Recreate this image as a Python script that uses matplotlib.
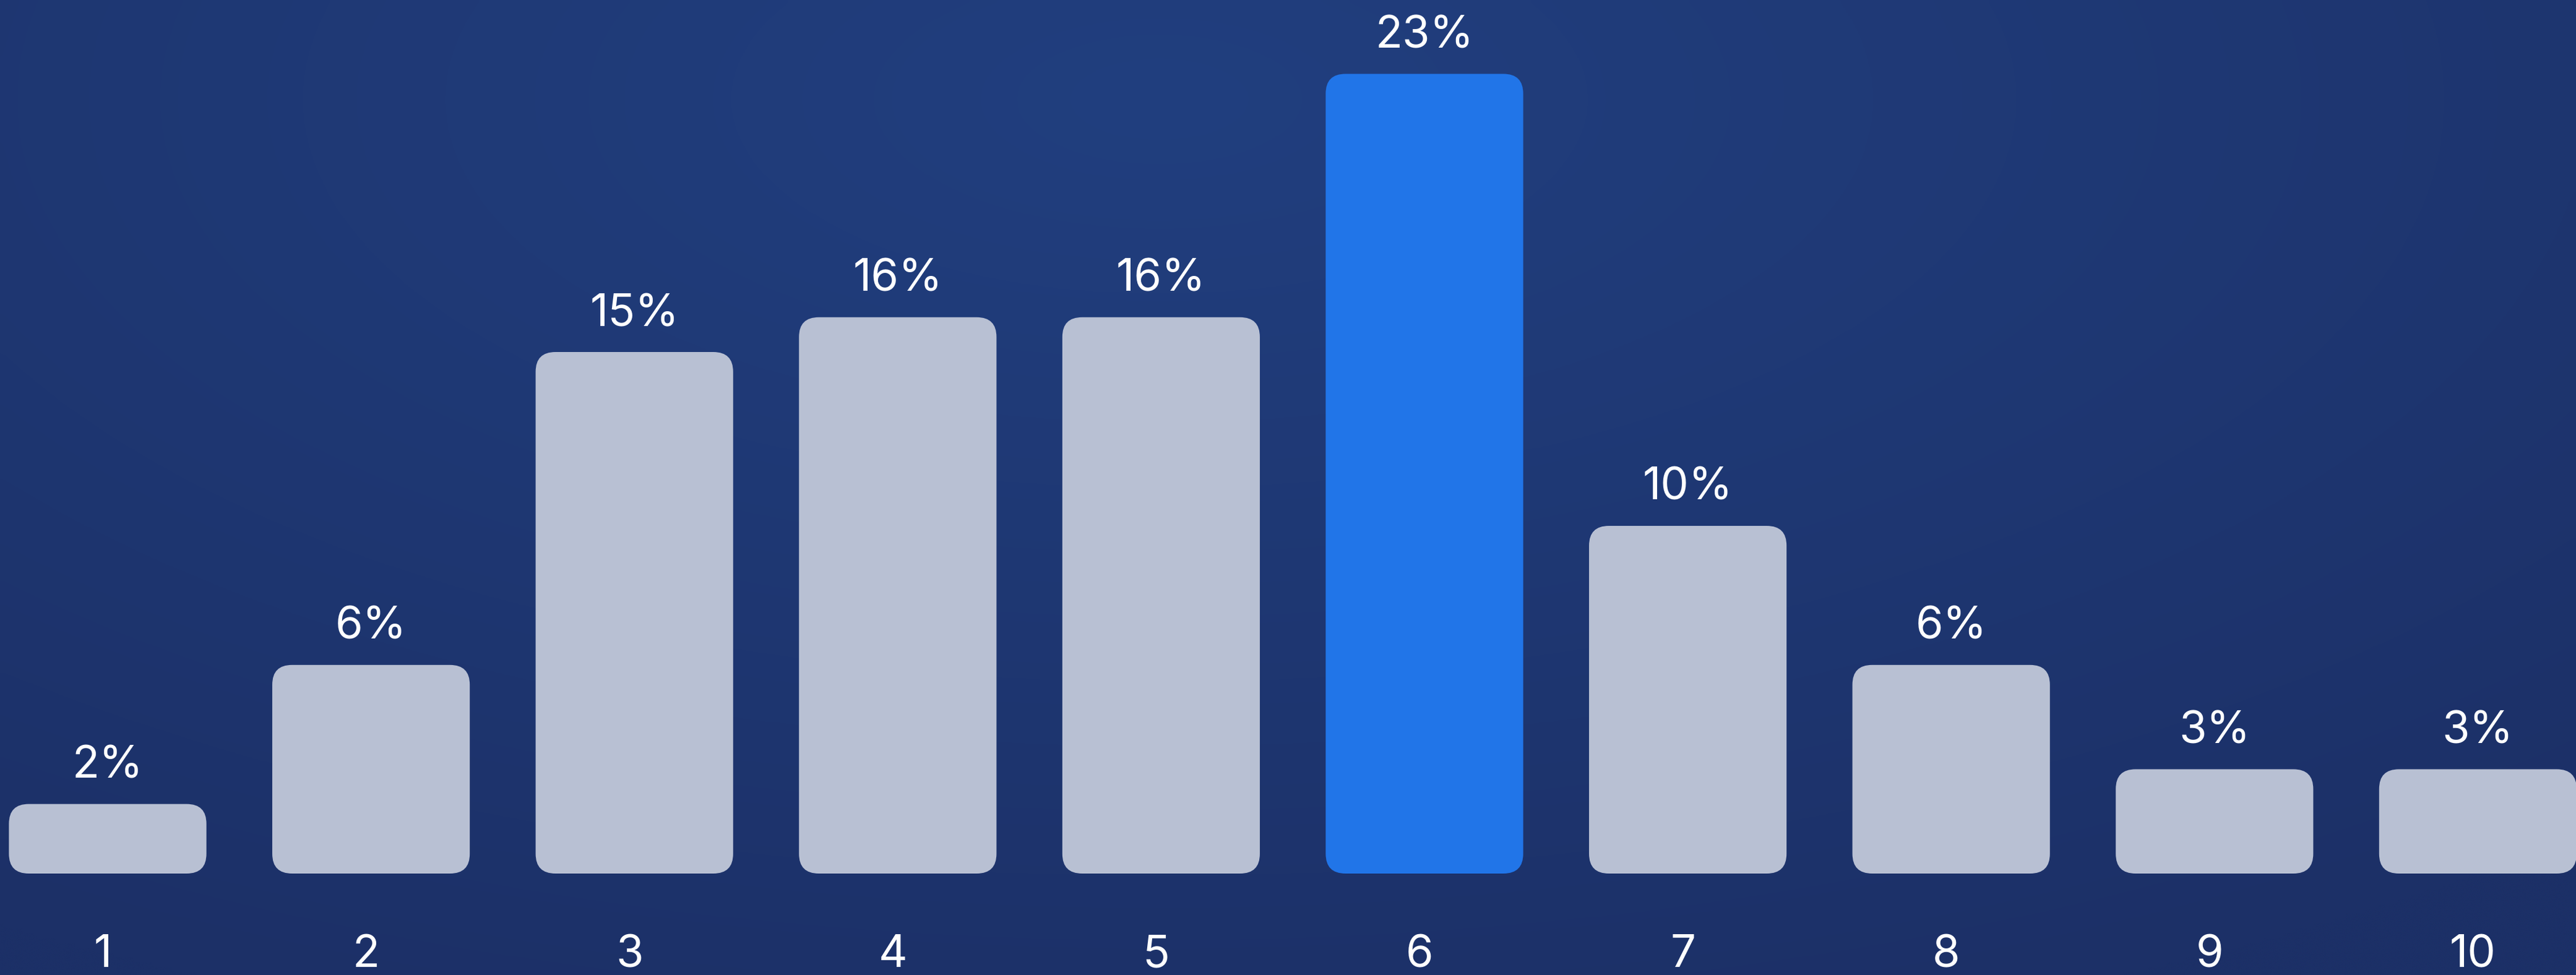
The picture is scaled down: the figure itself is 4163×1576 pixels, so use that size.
import matplotlib.pyplot as plt
from matplotlib.patches import FancyBboxPatch
import numpy as np

# datos del grafico
categorias = ['1', '2', '3', '4', '5', '6', '7', '8', '9', '10']
porcentajes = [2, 6, 15, 16, 16, 23, 10, 6, 3, 3]
destacado = '6'

color_fondo_centro = np.array([33, 63, 127]) / 255
color_fondo_borde = np.array([28, 48, 103]) / 255
color_barra = '#b8c0d3'
color_destacado = '#2175e8'

W, H, DPI = 4163, 1576, 100
fig = plt.figure(figsize=(W / DPI, H / DPI), dpi=DPI)

# fondo con degradado suave
bg = fig.add_axes([0, 0, 1, 1])
yy, xx = np.mgrid[0:1:200j, 0:1:400j]
d = np.sqrt(((xx - 0.45) * 1.2) ** 2 + ((yy - 0.1) * 1.0) ** 2)
t = np.clip(d / 1.0, 0, 1)[..., None]
img = color_fondo_centro * (1 - t) + color_fondo_borde * t
bg.imshow(img, aspect='auto', extent=[0, 1, 1, 0], interpolation='bicubic')
bg.axis('off')

# ejes de las barras
base_px = 164
px_por_pct = 56.2
paso_px = 425.6
centro1_px = 174
ax = fig.add_axes([0, base_px / H, 1, (H - base_px) / H])
ax.set_xlim(-centro1_px / paso_px, (W - centro1_px) / paso_px)
ax.set_ylim(0, (H - base_px) / px_por_pct)
ax.axis('off')
ax.patch.set_alpha(0)

ancho = 0.75
radio = 32 / paso_px
aspecto = (1 / px_por_pct) / (1 / paso_px)
posiciones = np.arange(len(categorias))

for x, cat, v in zip(posiciones, categorias, porcentajes):
    color = color_destacado if cat == destacado else color_barra
    caja = FancyBboxPatch((x - ancho / 2, 0), ancho, v,
                          boxstyle=f"round,pad=0,rounding_size={radio}",
                          mutation_aspect=aspecto, fc=color, ec='none')
    ax.add_patch(caja)
    ax.annotate(f'{v}%', (x, v), xytext=(0, 42), textcoords='offset pixels',
                ha='center', va='baseline', color='white', fontsize=52,
                family='Inter')
    ax.annotate(cat, (x, 0), xytext=(-8, -151), textcoords='offset pixels',
                ha='center', va='baseline', color='white', fontsize=52,
                family='Inter', annotation_clip=False)

fig.savefig('out.png', dpi=DPI)
